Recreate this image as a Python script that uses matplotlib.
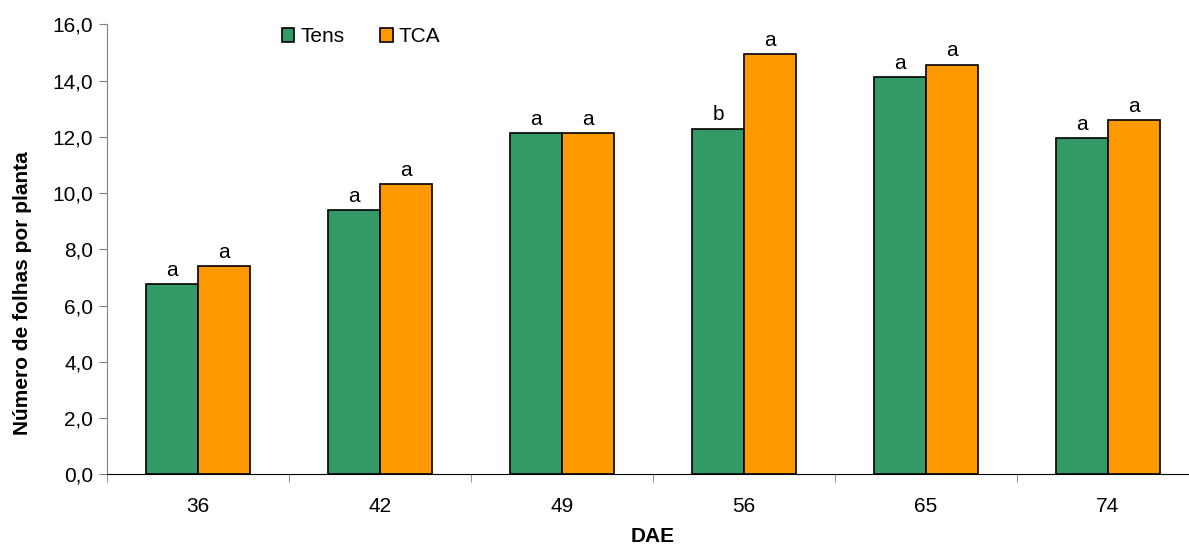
import matplotlib.pyplot as plt
import numpy as np

plt.rcParams['font.family'] = ['Liberation Sans', 'DejaVu Sans']

dae = ['36', '42', '49', '56', '65', '74']
tens = [6.77, 9.39, 12.14, 12.29, 14.13, 11.94]
tca = [7.41, 10.32, 12.14, 14.94, 14.57, 12.58]
letters_tens = ['a', 'a', 'a', 'b', 'a', 'a']
letters_tca = ['a', 'a', 'a', 'a', 'a', 'a']

fs = 15
fig = plt.figure(figsize=(11.89, 5.45), dpi=100)
ax = fig.add_axes([107 / 1189, 1 - 474.3 / 545, 1092 / 1189, 450 / 545])

x = np.arange(len(dae))
w = 0.285
ax.bar(x - w / 2, tens, w, color='#339966', edgecolor='black', linewidth=1.2, label='Tens')
ax.bar(x + w / 2, tca, w, color='#FF9900', edgecolor='black', linewidth=1.2, label='TCA')

for i in range(len(dae)):
    ax.annotate(letters_tens[i], (x[i] - w / 2, tens[i]), xytext=(0, 3), textcoords='offset points',
                ha='center', va='bottom', fontsize=fs)
    ax.annotate(letters_tca[i], (x[i] + w / 2, tca[i]), xytext=(0, 3), textcoords='offset points',
                ha='center', va='bottom', fontsize=fs)

ax.set_xlim(-0.5, len(dae) - 0.5)
ax.set_ylim(0, 16)
ax.set_yticks(np.arange(0, 16.1, 2))
ax.set_yticklabels([f'{v:.1f}'.replace('.', ',') for v in np.arange(0, 16.1, 2)], fontsize=fs)
ax.set_xticks(x)
ax.set_xticklabels(dae, fontsize=fs)
ax.set_xticks(np.arange(-0.5, len(dae), 1), minor=True)
ax.tick_params(axis='x', which='major', length=0, pad=16)
ax.tick_params(axis='x', which='minor', length=6, color='#808080')
ax.tick_params(axis='y', length=6, color='#808080', pad=4)

for s in ['top', 'right']:
    ax.spines[s].set_visible(False)
ax.spines['left'].set_color('#808080')
ax.spines['bottom'].set_color('black')

ax.set_xlabel('DAE', fontsize=fs, fontweight='bold')
ax.xaxis.set_label_coords(0.5, -0.117)
ax.set_ylabel('Número de folhas por planta', fontsize=fs, fontweight='bold')
ax.yaxis.set_label_coords(-0.069, 0.403)

ax.legend(loc='upper left', bbox_to_anchor=(0.143, 1.035), ncol=2, frameon=False, fontsize=fs,
          handlelength=0.6, handleheight=0.6, handletextpad=0.3, columnspacing=1.7)

fig.savefig('out.png', dpi=100)
